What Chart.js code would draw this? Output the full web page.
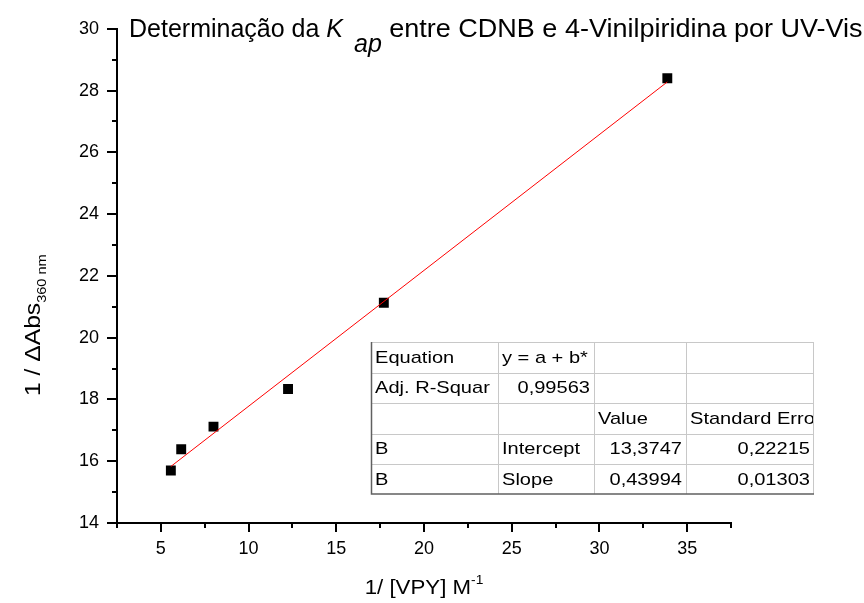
<!DOCTYPE html>
<html>
<head>
<meta charset="utf-8">
<script src="https://cdn.jsdelivr.net/npm/chart.js@4"></script>
<style>
  html, body { margin: 0; padding: 0; background: #fff; }
  #wrap { width: 864px; height: 603px; position: relative; }
</style>
</head>
<body>
<div id="wrap"><canvas id="myChart"></canvas></div>
<script>
// measured points (1/[VPY] vs 1/dAbs)
const xValues = [5.57, 6.16, 8.0, 12.25, 17.71, 33.87];
const yValues = [15.70, 16.39, 17.12, 18.34, 21.13, 28.40];

// linear fit line, read at its two ends
const fitX = [5.57, 33.87];
const fitY = [15.83, 28.28];

// fit results box
const tableRows = [
    ['Equation', 'y = a + b*', '', ''],
    ['Adj. R-Squar', '0,99563', '', ''],
    ['', '', 'Value', 'Standard Erro'],
    ['B', 'Intercept', '13,3747', '0,22215'],
    ['B', 'Slope', '0,43994', '0,01303']
];
const tableAlign = [
    ['l', 'l', 'l', 'l'],
    ['l', 'r', 'l', 'l'],
    ['l', 'l', 'l', 'l'],
    ['l', 'l', 'r', 'r'],
    ['l', 'l', 'r', 'r']
];

const FONT = 'Arial, "Liberation Sans", sans-serif';

// text drawn a bit wider than the font gives (the original export is stretched)
function wideText(c, text, x, y, sx) {
    c.save();
    c.translate(x, y);
    c.scale(sx, 1);
    c.fillText(text, 0, 0);
    c.restore();
    return c.measureText(text).width * sx;
}

const extrasPlugin = {
    id: 'extras',
    afterDraw: (chart) => {
        const { ctx, scales, chartArea } = chart;
        const xs = scales.x, ys = scales.y;
        ctx.save();

        // ticks (major longer, minor shorter, all outward)
        ctx.strokeStyle = '#000';
        ctx.lineWidth = 2;
        xs.ticks.forEach(t => {
            const px = Math.round(xs.getPixelForValue(t.value));
            const major = Math.abs(t.value % 5) < 1e-6;
            ctx.beginPath();
            ctx.moveTo(px, chartArea.bottom);
            ctx.lineTo(px, chartArea.bottom + (major ? 9 : 5));
            ctx.stroke();
        });
        ys.ticks.forEach(t => {
            const py = Math.round(ys.getPixelForValue(t.value));
            const major = Math.abs(t.value % 2) < 1e-6;
            ctx.beginPath();
            ctx.moveTo(chartArea.left, py);
            ctx.lineTo(chartArea.left - (major ? 10 : 5), py);
            ctx.stroke();
        });

        // title with italic K and subscript ap
        ctx.fillStyle = '#000';
        ctx.textBaseline = 'alphabetic';
        ctx.textAlign = 'left';
        let tx = 129;
        const ty = 37;
        ctx.font = '25px ' + FONT;
        const part1 = 'Determinação da ';
        ctx.fillText(part1, tx, ty);
        tx += ctx.measureText(part1).width;
        ctx.font = 'italic 25px ' + FONT;
        ctx.fillText('K', tx, ty);
        tx += ctx.measureText('K').width + 11;
        ctx.fillText('ap', tx, ty + 15);
        tx += ctx.measureText('ap').width;
        ctx.font = '25px ' + FONT;
        wideText(ctx, ' entre CDNB e 4-Vinilpiridina por UV-Vis', tx, ty, 1.08);

        // y axis title
        ctx.save();
        ctx.translate(40, 396);
        ctx.rotate(-Math.PI / 2);
        ctx.font = '22px ' + FONT;
        const yw = wideText(ctx, '1 / \u0394Abs', 0, 0, 1.12);
        ctx.font = '13px ' + FONT;
        wideText(ctx, '360 nm', yw, 6, 1.12);
        ctx.restore();

        // x axis title
        const xsx = 1.06;
        ctx.font = '21px ' + FONT;
        const xmain = '1/ [VPY] M';
        const xw = ctx.measureText(xmain).width * xsx;
        ctx.font = '13px ' + FONT;
        const sw = ctx.measureText('-1').width * xsx;
        const xStart = (chartArea.left + chartArea.right) / 2 - (xw + sw) / 2;
        ctx.font = '21px ' + FONT;
        wideText(ctx, xmain, xStart, 594, xsx);
        ctx.font = '13px ' + FONT;
        wideText(ctx, '-1', xStart + xw, 584, xsx);

        // results table
        const colX = [371, 498, 594, 686, 814];
        const rowY = [342, 372.5, 403, 433.5, 464, 494];
        ctx.fillStyle = '#fff';
        ctx.fillRect(colX[0], rowY[0], colX[4] - colX[0], rowY[5] - rowY[0]);
        ctx.strokeStyle = '#c8c8c8';
        ctx.lineWidth = 1;
        for (let i = 1; i < 4; i++) {
            ctx.beginPath();
            ctx.moveTo(colX[i] + 0.5, rowY[0]);
            ctx.lineTo(colX[i] + 0.5, rowY[5]);
            ctx.stroke();
        }
        for (let j = 0; j < 5; j++) {
            ctx.beginPath();
            ctx.moveTo(colX[0], Math.round(rowY[j]) + 0.5);
            ctx.lineTo(colX[4], Math.round(rowY[j]) + 0.5);
            ctx.stroke();
        }
        ctx.beginPath();
        ctx.moveTo(colX[4] - 0.5, rowY[0]);
        ctx.lineTo(colX[4] - 0.5, rowY[5]);
        ctx.stroke();
        ctx.strokeStyle = '#606060';
        ctx.lineWidth = 1.5;
        ctx.beginPath();
        ctx.moveTo(colX[0] + 0.5, rowY[0]);
        ctx.lineTo(colX[0] + 0.5, rowY[5]);
        ctx.lineTo(colX[4], rowY[5]);
        ctx.stroke();

        ctx.fillStyle = '#000';
        ctx.font = '17px ' + FONT;
        ctx.textBaseline = 'middle';
        tableRows.forEach((row, j) => {
            const cy = (rowY[j] + rowY[j + 1]) / 2 + 1;
            row.forEach((txt, i) => {
                if (!txt) return;
                ctx.save();
                ctx.beginPath();
                ctx.rect(colX[i] + 1, rowY[j], colX[i + 1] - colX[i] - 2, rowY[j + 1] - rowY[j]);
                ctx.clip();
                if (tableAlign[j][i] === 'r') {
                    ctx.textAlign = 'right';
                    wideText(ctx, txt, colX[i + 1] - 4, cy, 1.18);
                } else {
                    ctx.textAlign = 'left';
                    wideText(ctx, txt, colX[i] + 4, cy, 1.18);
                }
                ctx.restore();
            });
        });

        ctx.restore();
    }
};

const ctx = document.getElementById('myChart').getContext('2d');
const myChart = new Chart(ctx, {
    type: 'scatter',
    data: {
        datasets: [
            {
                label: 'fit',
                type: 'line',
                data: fitX.map((x, i) => ({ x: x, y: fitY[i] })),
                borderColor: '#ff0000',
                borderWidth: 1,
                pointRadius: 0,
                fill: false,
                order: 0
            },
            {
                label: 'B',
                data: xValues.map((x, i) => ({ x: x, y: yValues[i] })),
                pointStyle: 'rect',
                pointRadius: 7,
                pointBackgroundColor: '#000',
                pointBorderColor: '#000',
                pointBorderWidth: 0,
                order: 1
            }
        ]
    },
    plugins: [extrasPlugin],
    options: {
        responsive: true,
        maintainAspectRatio: false,
        animation: false,
        events: [],
        layout: { padding: { left: 0, top: 28, right: 133, bottom: 0 } },
        plugins: {
            legend: { display: false },
            tooltip: { enabled: false }
        },
        scales: {
            x: {
                type: 'linear',
                min: 2.5,
                max: 37.5,
                afterFit: (scale) => { scale.height = 80; },
                grid: { display: true, drawOnChartArea: false, drawTicks: false },
                border: { display: true, color: '#000', width: 2 },
                ticks: {
                    stepSize: 2.5,
                    autoSkip: false,
                    maxRotation: 0,
                    padding: 15,
                    color: '#000',
                    font: { family: FONT, size: 18 },
                    callback: (v) => (Math.abs(v % 5) < 1e-6 ? String(v) : '')
                }
            },
            y: {
                type: 'linear',
                min: 14,
                max: 30,
                afterFit: (scale) => { scale.width = 117; },
                grid: { display: true, drawOnChartArea: false, drawTicks: false },
                border: { display: true, color: '#000', width: 2 },
                ticks: {
                    stepSize: 1,
                    autoSkip: false,
                    padding: 18,
                    color: '#000',
                    font: { family: FONT, size: 18 },
                    callback: (v) => (Math.abs(v % 2) < 1e-6 ? String(v) : '')
                }
            }
        }
    }
});
</script>
</body>
</html>
